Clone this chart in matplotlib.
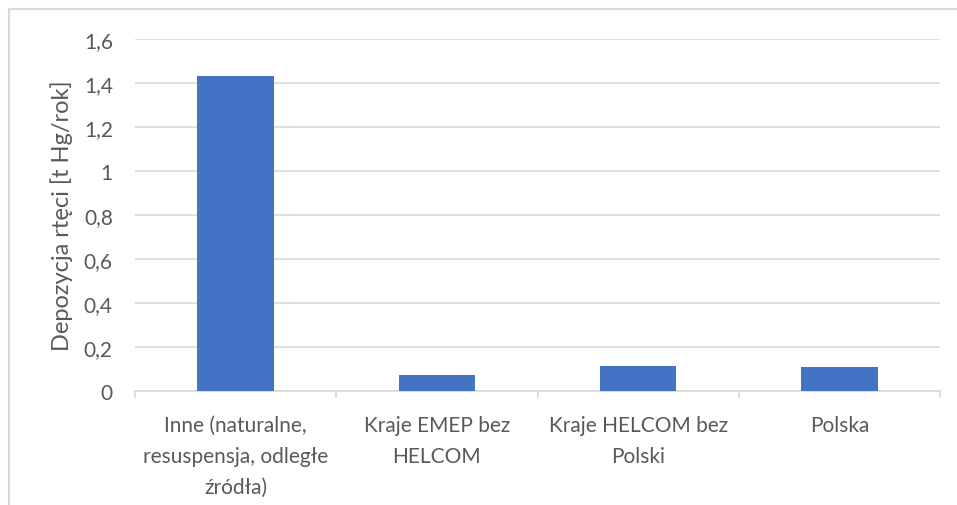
import matplotlib
matplotlib.use("Agg")
import matplotlib.pyplot as plt
from matplotlib.patches import Rectangle

# data
categories = ["Inne (naturalne,\nresuspensja, odległe\nźródła)",
              "Kraje EMEP bez\nHELCOM",
              "Kraje HELCOM bez\nPolski",
              "Polska"]
values = [1.43, 0.072, 0.112, 0.108]
yticks = [0, 0.2, 0.4, 0.6, 0.8, 1.0, 1.2, 1.4, 1.6]
ytick_labels = ["0", "0,2", "0,4", "0,6", "0,8", "1", "1,2", "1,4", "1,6"]
ylabel = "Depozycja rtęci [t Hg/rok]"

text_col = "#595959"
grid_col = "#d9d9d9"
plt.rcParams['font.family'] = ['Lato', 'DejaVu Sans']

fig = plt.figure(figsize=(9.57, 5.06), dpi=100)
ax = fig.add_axes([135/957, 1 - 392/506, 805/957, 352/506])

x = list(range(len(categories)))
ax.bar(x, values, width=0.38, color="#4472C4", zorder=3)

ax.set_xlim(-0.5, len(categories) - 0.5)
ax.set_ylim(0, 1.6)
ax.set_yticks(yticks)
ax.set_yticklabels(ytick_labels)
ax.set_xticks(x)
ax.set_xticklabels(categories, linespacing=1.7)
ax.set_xticks([i - 0.5 for i in range(len(categories) + 1)], minor=True)

ax.grid(axis="y", color=grid_col, linewidth=1.2, zorder=0)
for s in ["top", "right", "left"]:
    ax.spines[s].set_visible(False)
ax.spines["bottom"].set_color(grid_col)
ax.spines["bottom"].set_linewidth(1.2)

ax.tick_params(axis="y", length=0, pad=16, labelsize=15, labelcolor=text_col)
ax.tick_params(axis="x", which="major", length=0, pad=17, labelsize=15, labelcolor=text_col)
ax.tick_params(axis="x", which="minor", length=5, width=1.2, color=grid_col)

fig.text(62/957, 0.573, ylabel, rotation=90, ha="center", va="center",
         fontsize=17, color=text_col)

# outer chart frame
fig.patches.append(Rectangle((9/957, -0.1), 1.0, 1 - 10/506 + 0.1,
                             transform=fig.transFigure, fill=False,
                             edgecolor=grid_col, linewidth=1.5))

fig.savefig("out.png", dpi=100)
